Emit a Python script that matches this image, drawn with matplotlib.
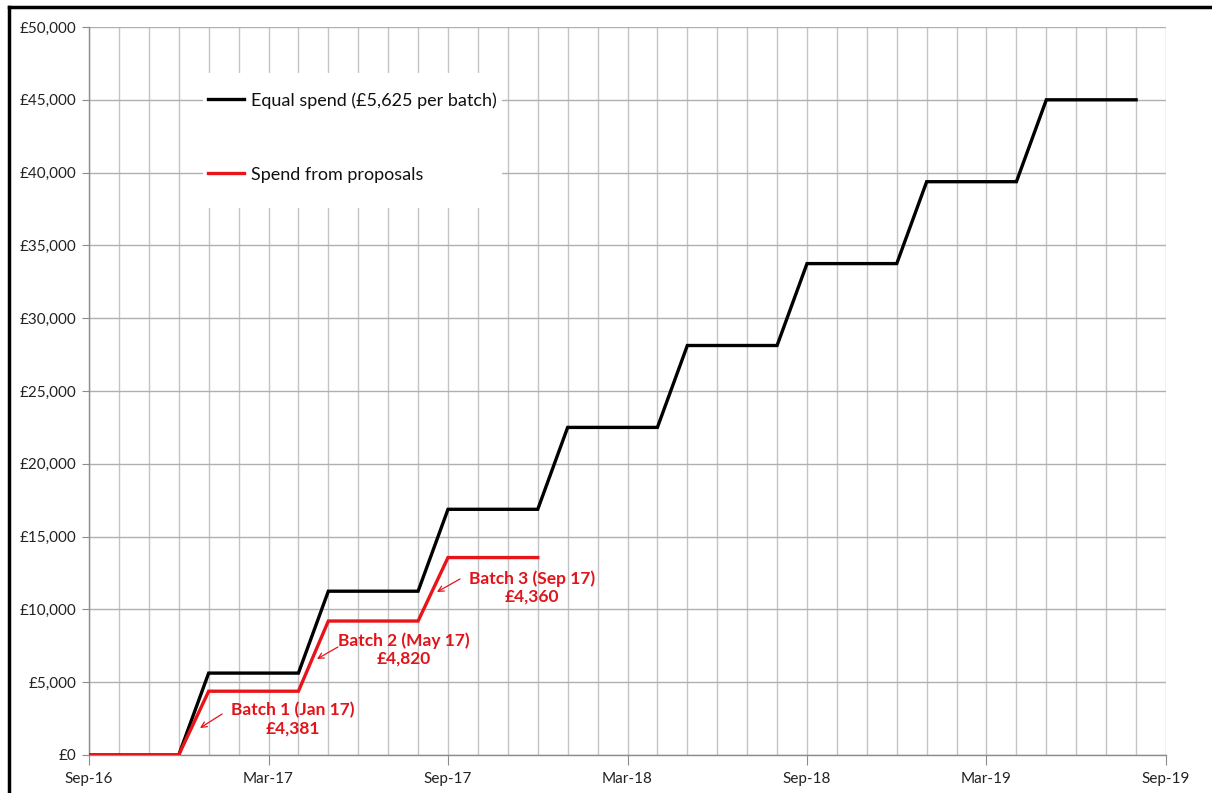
import matplotlib
matplotlib.use("Agg")
import matplotlib.pyplot as plt
from matplotlib.ticker import FuncFormatter, MultipleLocator
from matplotlib.lines import Line2D
from matplotlib.patches import Rectangle

# ---- data ----
tick_labels = ["Sep-16", "Mar-17", "Sep-17", "Mar-18", "Sep-18", "Mar-19", "Sep-19"]
tick_months = [0, 6, 12, 18, 24, 30, 36]          # months since Sep-16

equal_months = [0, 3, 4, 7, 8, 11, 12, 15, 16, 19, 20, 23, 24, 27, 28, 31, 32, 35]
equal_spend = [0, 0, 5625, 5625, 11250, 11250, 16875, 16875, 22500, 22500,
               28125, 28125, 33750, 33750, 39375, 39375, 45000, 45000]

prop_months = [0, 3, 4, 7, 8, 11, 12, 15]
prop_spend = [0, 0, 4381, 4381, 9201, 9201, 13561, 13561]

batch_labels = ["Batch 1 (Jan 17)\n£4,381", "Batch 2 (May 17)\n£4,820", "Batch 3 (Sep 17)\n£4,360"]

# ---- figure ----
plt.rcParams['font.family'] = ['Lato', 'DejaVu Sans']
W, H = 1212, 793
fig = plt.figure(figsize=(W/100, H/100), dpi=100)
x0, x1, y0, y1 = 89, 1166, 755, 27
ax = fig.add_axes([x0/W, 1-y0/H, (x1-x0)/W, (y0-y1)/H])

def ax_frac(px, py):
    return (px - x0) / (x1 - x0), (y0 - py) / (y0 - y1)

grid_c = "#c4c4c4"
ax.set_xlim(0, 36)
ax.set_ylim(0, 50000)
ax.xaxis.set_minor_locator(MultipleLocator(1))
ax.set_xticks(tick_months)
ax.set_xticklabels(tick_labels)
ax.yaxis.set_major_locator(MultipleLocator(5000))
ax.yaxis.set_major_formatter(FuncFormatter(lambda v, p: "£{:,.0f}".format(v)))

ax.grid(True, which="both", axis="x", color=grid_c, lw=1.0)
ax.grid(True, which="major", axis="y", color="#b0b0b0", lw=1.0)
ax.set_axisbelow(True)
for s in ["top", "right"]:
    ax.spines[s].set_visible(False)
for s in ["left", "bottom"]:
    ax.spines[s].set_color("#8c8c8c")
    ax.spines[s].set_linewidth(1.0)
ax.tick_params(axis="x", which="major", length=7, color="#8c8c8c", labelsize=11,
               labelcolor="#222222", pad=5)
ax.tick_params(axis="x", which="minor", length=0)
ax.tick_params(axis="y", which="major", length=5, color="#8c8c8c", labelsize=11,
               labelcolor="#222222", pad=4)

ax.plot(equal_months, equal_spend, color="black", lw=2.4, solid_joinstyle="miter",
        label="Equal spend (£5,625 per batch)", zorder=3)
ax.plot(prop_months, prop_spend, color="#e8141a", lw=2.4, solid_joinstyle="miter",
        label="Spend from proposals", zorder=4)

red = "#e0141a"
# annotations: (text pos, arrow tail, arrow head)
ann = [((6.82, 2473), (4.45, 2816), (3.71, 1854)),
       ((10.53, 7246), (8.32, 7418), (7.62, 6593)),
       ((14.8, 11504), (12.4, 12088), (11.63, 11195))]
for lab, (tpos, tail, head) in zip(batch_labels, ann):
    ax.text(tpos[0], tpos[1], lab, color=red, fontsize=12.5, fontweight="bold",
            ha="center", va="center", linespacing=1.15, zorder=5)
    ax.annotate("", xy=head, xytext=tail,
                arrowprops=dict(arrowstyle="->", color=red, lw=0.9,
                                shrinkA=0, shrinkB=0, mutation_scale=10), zorder=5)

# white legend area
bl = ax_frac(203, 208)
tr = ax_frac(502, 73)
ax.add_patch(Rectangle(bl, tr[0]-bl[0], tr[1]-bl[1], transform=ax.transAxes,
                       facecolor="white", edgecolor="none", zorder=2))

leg = ax.legend(loc="upper left", bbox_to_anchor=ax_frac(208, 92),
                frameon=False, fontsize=13, handlelength=2.0, handletextpad=0.38,
                labelspacing=3.22, borderpad=0, borderaxespad=0)
for t in leg.get_texts():
    t.set_color("#111111")

# figure border
fig.add_artist(Line2D([9/W, 9/W], [0, 1-7/H], transform=fig.transFigure,
                      color="black", lw=2.5))
fig.add_artist(Line2D([9/W, 1], [1-7/H, 1-7/H], transform=fig.transFigure,
                      color="black", lw=2.5))

fig.savefig("out.png", dpi=100)
